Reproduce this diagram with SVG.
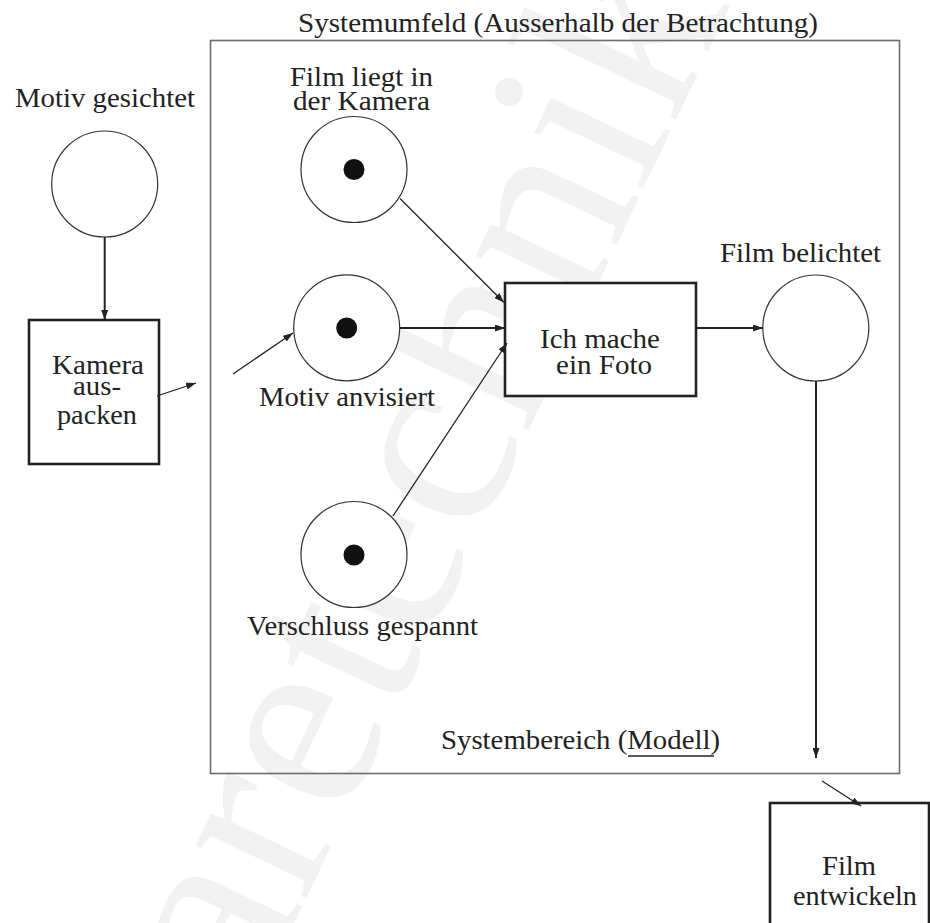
<svg xmlns="http://www.w3.org/2000/svg" width="930" height="923" viewBox="0 0 930 923" font-family="'Liberation Serif', 'Times New Roman', Times, serif">
  <defs>
    <marker id="arrow" viewBox="0 0 10 7" refX="10" refY="3.5" markerWidth="10" markerHeight="7" markerUnits="userSpaceOnUse" orient="auto">
      <path d="M0,0 L10,3.5 L0,7 z" fill="#222"/>
    </marker>
    <style>
      text { font-family: 'Liberation Serif', 'Times New Roman', Times, serif; }
      .lbl { font-size: 26.5px; fill: #222; }
      .mark { font-size: 267px; fill: #f2f2f2; }
      .place { fill: #fff; stroke: #333; stroke-width: 1.2; }
      .token { fill: #111; }
      .trans { fill: #fff; stroke: #222; stroke-width: 2.6; }
      .arc { fill: none; stroke: #222; stroke-width: 1.3; marker-end: url(#arrow); }
      .arc-strong { fill: none; stroke: #222; stroke-width: 2; marker-end: url(#arrow); }
      .boundary { fill: none; stroke: #6c6c6c; stroke-width: 1.6; }
    </style>
  </defs>

  <rect width="930" height="923" fill="#fff"/>

  <!-- background watermark -->
  <text class="mark" x="730" y="6" transform="rotate(-64.6 730 6)" text-anchor="end">Softwaretechnik</text>

  <!-- system boundary -->
  <g id="boundary">
    <rect class="boundary" x="210.5" y="40.5" width="689" height="733"/>
    <text class="lbl" x="298" y="32" textLength="520" lengthAdjust="spacingAndGlyphs">Systemumfeld (Ausserhalb der Betrachtung)</text>
    <text class="lbl" x="441" y="749" textLength="279" lengthAdjust="spacingAndGlyphs">Systembereich (Modell)</text>
    <line x1="628" y1="756" x2="714" y2="756" stroke="#222" stroke-width="1.4"/>
  </g>

  <!-- places -->
  <g id="motiv-gesichtet">
    <circle class="place" cx="104.7" cy="184" r="53"/>
    <text class="lbl" x="15" y="107" textLength="180" lengthAdjust="spacingAndGlyphs">Motiv gesichtet</text>
  </g>
  <g id="film-liegt">
    <circle class="place" cx="354" cy="169.5" r="53"/>
    <circle class="token" cx="354" cy="169.5" r="10.5"/>
    <text class="lbl" x="290" y="86" textLength="143" lengthAdjust="spacingAndGlyphs">Film liegt in</text>
    <text class="lbl" x="293" y="110" textLength="137" lengthAdjust="spacingAndGlyphs">der Kamera</text>
  </g>
  <g id="motiv-anvisiert">
    <circle class="place" cx="346.7" cy="327.8" r="53"/>
    <circle class="token" cx="346.7" cy="328" r="10.5"/>
    <text class="lbl" x="259" y="406" textLength="176" lengthAdjust="spacingAndGlyphs">Motiv anvisiert</text>
  </g>
  <g id="verschluss-gespannt">
    <circle class="place" cx="354" cy="554.5" r="53"/>
    <circle class="token" cx="354" cy="555" r="10.5"/>
    <text class="lbl" x="247" y="635" textLength="231" lengthAdjust="spacingAndGlyphs">Verschluss gespannt</text>
  </g>
  <g id="film-belichtet">
    <circle class="place" cx="815.8" cy="328" r="53"/>
    <text class="lbl" x="720" y="262" textLength="161" lengthAdjust="spacingAndGlyphs">Film belichtet</text>
  </g>

  <!-- transitions -->
  <g id="kamera-auspacken">
    <rect class="trans" x="29" y="320" width="130" height="144"/>
    <text class="lbl" x="52" y="374" textLength="92" lengthAdjust="spacingAndGlyphs">Kamera</text>
    <text class="lbl" x="73" y="395" textLength="48" lengthAdjust="spacingAndGlyphs">aus-</text>
    <text class="lbl" x="57" y="424" textLength="80" lengthAdjust="spacingAndGlyphs">packen</text>
  </g>
  <g id="foto-machen">
    <rect class="trans" x="505" y="283" width="191" height="113"/>
    <text class="lbl" x="540" y="348" textLength="120" lengthAdjust="spacingAndGlyphs">Ich mache</text>
    <text class="lbl" x="556" y="374" textLength="96" lengthAdjust="spacingAndGlyphs">ein Foto</text>
  </g>
  <g id="film-entwickeln">
    <rect class="trans" x="770" y="803" width="159" height="140"/>
    <text class="lbl" x="822" y="875" textLength="54" lengthAdjust="spacingAndGlyphs">Film</text>
    <text class="lbl" x="793" y="905" textLength="124" lengthAdjust="spacingAndGlyphs">entwickeln</text>
  </g>

  <!-- arcs -->
  <g id="connectors">
    <line class="arc-strong" x1="104.7" y1="237" x2="104.7" y2="320"/>
    <line class="arc" x1="157" y1="396" x2="196" y2="383"/>
    <line class="arc" x1="233" y1="374" x2="293" y2="333"/>
    <line class="arc" x1="400" y1="198.5" x2="504" y2="302.5"/>
    <line class="arc-strong" x1="400" y1="328" x2="505" y2="328"/>
    <line class="arc" x1="393" y1="516" x2="507" y2="343"/>
    <line class="arc-strong" x1="696" y1="328" x2="763" y2="328"/>
    <line class="arc-strong" x1="816" y1="381" x2="816" y2="758"/>
    <line class="arc" x1="822" y1="781" x2="861" y2="806"/>
  </g>
</svg>
